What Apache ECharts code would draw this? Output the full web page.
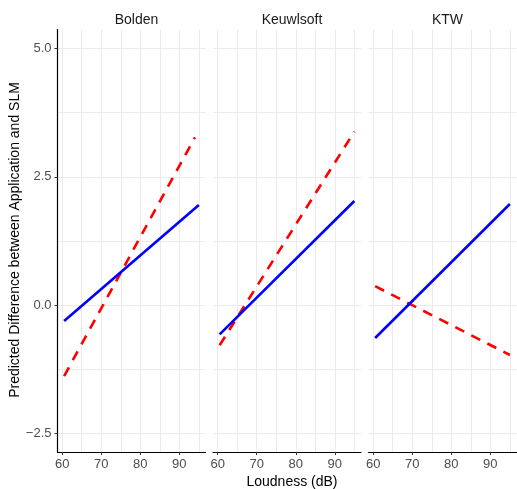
<!DOCTYPE html>
<html>
<head>
<meta charset="utf-8">
<script src="https://cdn.jsdelivr.net/npm/echarts@6/dist/echarts.min.js"></script>
<style>
  html, body { margin: 0; padding: 0; background: #fff; }
  #chart { width: 517px; height: 489px; }
</style>
</head>
<body>
<div id="chart"></div>
<script>
// facets
var panels = ['Bolden', 'Keuwlsoft', 'KTW'];
// x extent of the fitted lines (dB), per panel
var blueLoudness = [[60.5, 95], [60.5, 95], [60.5, 95]];
var redLoudness = [[60.5, 94], [60.5, 95], [60.5, 95]];
// predicted difference at the two ends, per panel
var blueLine = [[-0.31, 1.95], [-0.57, 2.03], [-0.64, 1.97]];
var redLine = [[-1.38, 3.27], [-0.78, 3.38], [0.37, -0.97]];
// tick labels / grid lines
var xLabels = [60, 70, 80, 90];
var xGrid = [60, 65, 70, 75, 80, 85, 90, 95];
var yLabels = [-2.5, 0, 2.5, 5];
var yGrid = [-2.5, -1.25, 0, 1.25, 2.5, 3.75, 5];

var font = 'Liberation Sans, Arial, sans-serif';
var gridColor = '#ebebeb';
var panelLeft = [57.5, 213, 368.5];
var panelWidth = 148;
var panelTop = 29.5;
var panelHeight = 422.5;

var grids = [], xAxes = [], yAxes = [], series = [], titles = [];

panels.forEach(function (name, i) {
  grids.push({ left: panelLeft[i], top: panelTop, width: panelWidth, height: panelHeight, containLabel: false });
  titles.push({
    text: name, left: panelLeft[i] + panelWidth / 2, top: 8, textAlign: 'center',
    textStyle: { fontFamily: font, fontSize: 14, fontWeight: 'normal', color: '#1a1a1a' }
  });
  // grid-line axis
  xAxes.push({
    type: 'value', gridIndex: i, position: 'bottom', min: 58.8, max: 96.7,
    axisLine: { show: false }, axisLabel: { show: false },
    axisTick: { show: false, customValues: xGrid },
    splitLine: { show: true, lineStyle: { color: gridColor, width: 1 } }
  });
  // labelled axis
  xAxes.push({
    type: 'value', gridIndex: i, position: 'bottom', min: 58.8, max: 96.7,
    axisLine: { show: true, onZero: false, lineStyle: { color: '#000', width: 1.2 } },
    axisTick: { show: true, length: 3, customValues: xLabels, lineStyle: { color: '#333' } },
    axisLabel: { show: true, customValues: xLabels, color: '#4d4d4d', fontFamily: font, fontSize: 13, margin: 6 },
    splitLine: { show: false }
  });
  yAxes.push({
    type: 'value', gridIndex: i, position: 'left', min: -2.86, max: 5.37,
    axisLine: { show: false }, axisLabel: { show: false },
    axisTick: { show: false, customValues: yGrid },
    splitLine: { show: true, lineStyle: { color: gridColor, width: 1 } }
  });
  yAxes.push({
    type: 'value', gridIndex: i, position: 'left', min: -2.86, max: 5.37,
    axisLine: { show: i === 0, onZero: false, lineStyle: { color: '#000', width: 1.2 } },
    axisTick: { show: i === 0, length: 3, customValues: yLabels, lineStyle: { color: '#333' } },
    axisLabel: {
      show: i === 0, customValues: yLabels, color: '#4d4d4d', fontFamily: font, fontSize: 13, margin: 6,
      formatter: function (v) { return v.toFixed(1).replace('-', '\u2212'); }
    },
    splitLine: { show: false }
  });
  series.push({
    type: 'line', xAxisIndex: 2 * i + 1, yAxisIndex: 2 * i + 1,
    data: [[redLoudness[i][0], redLine[i][0]], [redLoudness[i][1], redLine[i][1]]],
    showSymbol: false, silent: true, animation: false,
    lineStyle: { color: '#ff0000', width: 2.6, type: [10, 8] }
  });
  series.push({
    type: 'line', xAxisIndex: 2 * i + 1, yAxisIndex: 2 * i + 1,
    data: [[blueLoudness[i][0], blueLine[i][0]], [blueLoudness[i][1], blueLine[i][1]]],
    showSymbol: false, silent: true, animation: false,
    lineStyle: { color: '#0000ff', width: 2.6 }
  });
});

titles.push({
  text: 'Loudness (dB)', left: 287, top: 470, textAlign: 'center',
  textStyle: { fontFamily: font, fontSize: 14, fontWeight: 'normal', color: '#000' }
});

var chart = echarts.init(document.getElementById('chart'));
chart.setOption({
  backgroundColor: '#fff',
  animation: false,
  title: titles,
  grid: grids,
  xAxis: xAxes,
  yAxis: yAxes,
  series: series,
  graphic: [{
    type: 'text', rotation: Math.PI / 2,
    x: 15, y: 240,
    style: {
      text: 'Predicted Difference between Application and SLM',
      font: '14px Liberation Sans, Arial, sans-serif', fill: '#000',
      textAlign: 'center', textVerticalAlign: 'middle'
    }
  }]
});
</script>
</body>
</html>
